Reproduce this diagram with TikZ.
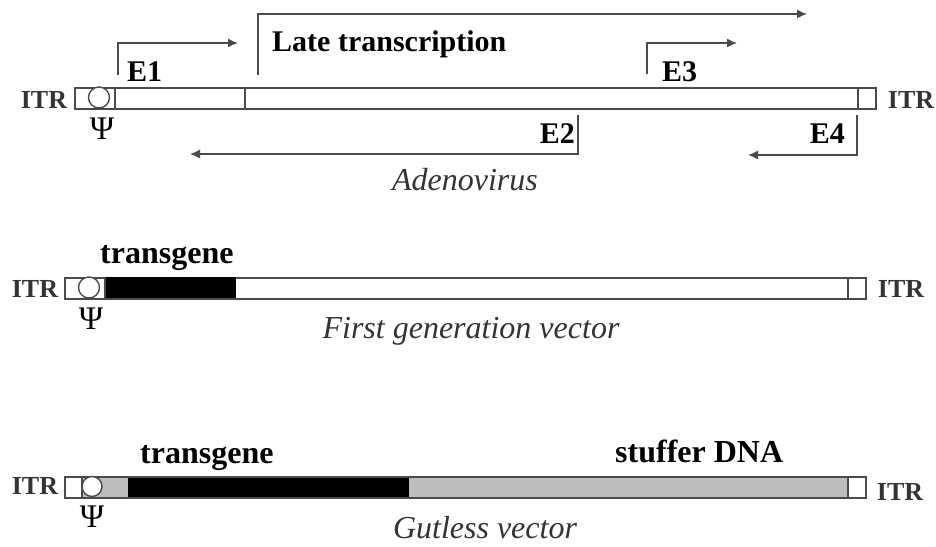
\documentclass[tikz,border=0pt]{standalone}
\usepackage{fontspec}
\setmainfont{Liberation Serif}
\usetikzlibrary{arrows.meta}
\definecolor{linegray}{HTML}{4A4A4A}
\definecolor{stuffgray}{HTML}{BDBDBD}
\begin{document}
\begin{tikzpicture}[x=1pt,y=-1pt,
  bar/.style={draw=linegray,line width=1.6pt},
  seg/.style={draw=linegray,line width=1.4pt},
  psi/.style={draw=linegray,line width=1.4pt,fill=white},
  tx/.style={draw=linegray,line width=1.4pt,-{Latex[length=10pt,width=9pt]}},
  itr/.style={font=\fontsize{26}{26}\selectfont\bfseries,text=black!80,inner sep=0pt},
  lab/.style={font=\fontsize{30}{30}\selectfont\bfseries,inner sep=0pt},
  big/.style={font=\fontsize{32}{32}\selectfont\bfseries,inner sep=0pt},
  captext/.style={font=\fontsize{32}{32}\selectfont\itshape,text=black!80,inner sep=0pt},
  greek/.style={font=\fontsize{33}{33}\selectfont,inner sep=0pt}]
\useasboundingbox (0,0) rectangle (936,546);

% ---------- Adenovirus ----------
\node[bar,rectangle,minimum width=801pt,minimum height=21pt,anchor=north west,inner sep=0pt] (ad) at (74,87) {};
\draw[seg] (115,87) -- (115,108);
\draw[seg] (245,87) -- (245,108);
\draw[seg] (858,87) -- (858,108);
\node[psi,circle,minimum size=21pt,inner sep=0pt] (adpsi) at (99,97.5) {};
\node[itr] (aditrl) at (44,100) {ITR};
\node[itr] (aditrr) at (911,100) {ITR};
\node[greek] (adpsil) at (102,129) {Ψ};

\coordinate (e1a) at (118,75);
\coordinate (e1b) at (118,43);
\coordinate (e1c) at (238,43);
\draw[tx] (e1a) -- (e1b) -- (e1c);
\node[lab,anchor=base west] (e1) at (127,81) {E1};

\coordinate (lta) at (258,75);
\coordinate (ltb) at (258,14);
\coordinate (ltc) at (807,14);
\draw[tx] (lta) -- (ltb) -- (ltc);
\node[lab,anchor=base west] (late) at (272,51) {Late transcription};

\coordinate (e3a) at (647,74);
\coordinate (e3b) at (647,43);
\coordinate (e3c) at (737,43);
\draw[tx] (e3a) -- (e3b) -- (e3c);
\node[lab,anchor=base west] (e3) at (662,81) {E3};

\coordinate (e2a) at (578,115);
\coordinate (e2b) at (578,154);
\coordinate (e2c) at (190,154);
\draw[tx] (e2a) -- (e2b) -- (e2c);
\node[lab,anchor=base east] (e2) at (575,143) {E2};

\coordinate (e4a) at (857,115);
\coordinate (e4b) at (857,155);
\coordinate (e4c) at (748,155);
\draw[tx] (e4a) -- (e4b) -- (e4c);
\node[lab,anchor=base east] (e4) at (845,143) {E4};

\node[captext,anchor=base] (adcap) at (465,190) {Adenovirus};

% ---------- First generation vector ----------
\node[bar,rectangle,minimum width=801pt,minimum height=21pt,anchor=north west,inner sep=0pt] (fg) at (64,277) {};
\fill[black] (105,277) rectangle (236,298);
\draw[seg] (105,277) -- (105,298);
\draw[seg] (848,277) -- (848,298);
\node[psi,circle,minimum size=21pt,inner sep=0pt] (fgpsi) at (89,287.5) {};
\node[itr] (fgitrl) at (35,289) {ITR};
\node[itr] (fgitrr) at (901,289) {ITR};
\node[greek] (fgpsil) at (91,319) {Ψ};
\node[big,anchor=base west] (fgtg) at (100,263) {transgene};
\node[captext,anchor=base] (fgcap) at (471,338) {First generation vector};

% ---------- Gutless vector ----------
\fill[stuffgray] (82,476) rectangle (848,497);
\fill[black] (128,476) rectangle (409,497);
\node[bar,rectangle,minimum width=801pt,minimum height=21pt,anchor=north west,inner sep=0pt] (gl) at (64,476) {};
\draw[seg] (82,476) -- (82,497);
\draw[seg] (848,476) -- (848,497);
\node[psi,circle,minimum size=20pt,inner sep=0pt] (glpsi) at (92,486.5) {};
\node[itr] (glitrl) at (35,486) {ITR};
\node[itr] (glitrr) at (900,492) {ITR};
\node[greek] (glpsil) at (92,517) {Ψ};
\node[big,anchor=base west] (gltg) at (140,463) {transgene};
\node[big,anchor=base west] (glst) at (615,462) {stuffer DNA};
\node[captext,anchor=base] (glcap) at (485,538) {Gutless vector};
\end{tikzpicture}
\end{document}
